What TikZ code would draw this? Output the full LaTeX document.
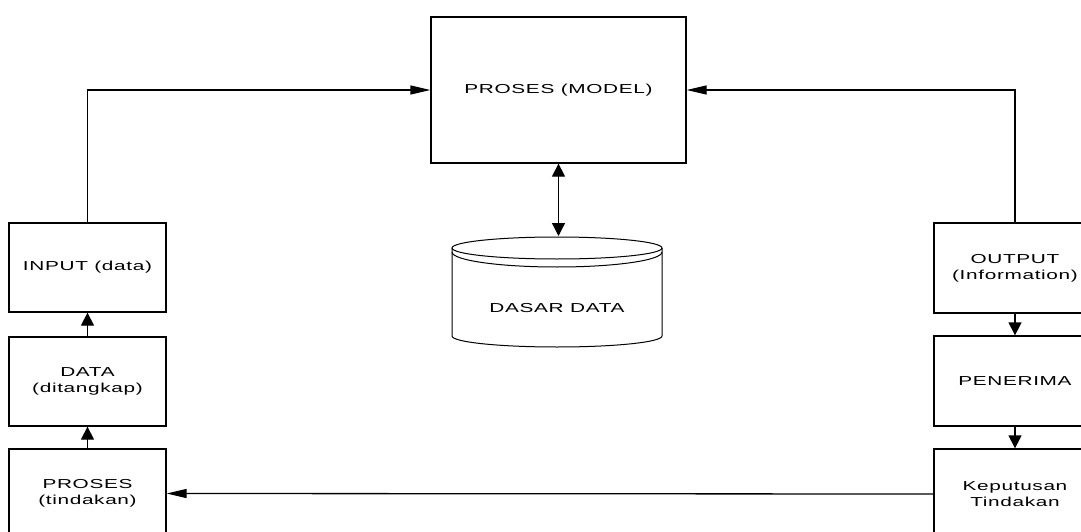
\documentclass[tikz,border=0pt]{standalone}
\usepackage{fontspec}
\setmainfont{Liberation Sans}[FakeStretch=1.6,LetterSpace=5]
\usetikzlibrary{arrows.meta}
\begin{document}
\begin{tikzpicture}[x=1pt,y=-1pt,
  box/.style={draw,line width=1.3pt,align=center,font=\fontsize{13}{16}\selectfont,inner sep=0pt},
  lbox/.style={box,minimum width=157pt,minimum height=89pt},
  rbox/.style={box,minimum width=162pt,minimum height=90pt},
  conn/.style={line width=1.3pt},
  harrow/.style={conn,-{Triangle[length=20pt,width=9pt]}},
  varrow/.style={conn,-{Triangle[length=13pt,width=13pt]}},
  dbline/.style={line width=1pt},
  txt/.style={font=\fontsize{13}{16}\selectfont,inner sep=0pt}]
\clip (0,0) rectangle (1081,532);
\fill[white] (0,0) rectangle (1081,532);
% boxes
\node[box,minimum width=255pt,minimum height=146pt] (model) at (558.5,90) {PROSES (MODEL)};
\node[lbox] (input) at (87.5,267.5) {INPUT (data)};
\node[lbox] (data) at (87.5,381.5) {DATA\\(ditangkap)};
\node[lbox] (tind) at (87.5,493.5) {PROSES\\(tindakan)};
\node[rbox] (output) at (1015,268) {OUTPUT\\(Information)};
\node[rbox] (pen) at (1015,381) {PENERIMA};
\node[rbox] (kep) at (1015,494) {Keputusan\\Tindakan};
% database cylinder
\draw[dbline,fill=white] (452,248) -- (452,336) arc[start angle=180,end angle=360,x radius=105pt,y radius=11pt] -- (662,248);
\draw[dbline] (557,248) ellipse[x radius=105pt,y radius=11pt];
\draw[dbline] (452,252) arc[start angle=180,end angle=360,x radius=105pt,y radius=15pt];
\node[txt] (db) at (557,308) {DASAR DATA};
\coordinate (dbtop) at (558.5,236);
% connectors
\draw[harrow] (input.north) |- (model.west);
\draw[harrow] (output.north) |- (model.east);
\draw[varrow] (data.north) -- (input.south);
\draw[varrow] (tind.north) -- (data.south);
\draw[varrow] (output.south) -- (pen.north);
\draw[varrow] (pen.south) -- (kep.north);
\draw[harrow] (kep.west) -- (tind.east);
\draw[conn,{Triangle[length=13pt,width=13pt]}-{Triangle[length=13pt,width=13pt]}] (model.south) -- (dbtop);
\end{tikzpicture}
\end{document}
